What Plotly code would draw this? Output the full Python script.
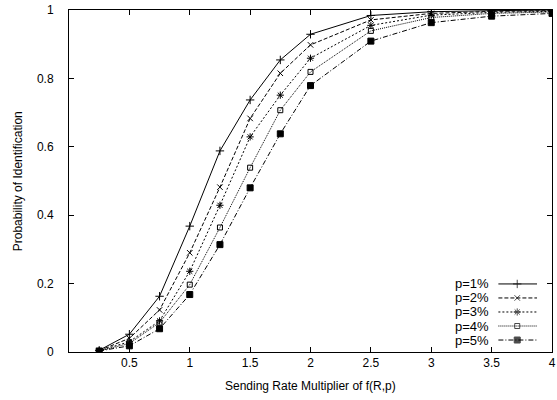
import plotly.graph_objects as go

x_vals = [0.25, 0.5, 0.75, 1.0, 1.25, 1.5, 1.75, 2.0, 2.5, 3.0, 3.5, 4.0]
p1 = [0.005, 0.052, 0.163, 0.368, 0.588, 0.737, 0.854, 0.929, 0.984, 0.995, 0.998, 1.0]
p2 = [0.004, 0.040, 0.123, 0.290, 0.482, 0.683, 0.815, 0.898, 0.971, 0.990, 0.996, 0.998]
p3 = [0.004, 0.030, 0.091, 0.236, 0.429, 0.629, 0.751, 0.859, 0.955, 0.985, 0.993, 0.996]
p4 = [0.003, 0.025, 0.086, 0.197, 0.364, 0.539, 0.707, 0.819, 0.939, 0.978, 0.990, 0.994]
p5 = [0.003, 0.018, 0.068, 0.168, 0.314, 0.480, 0.638, 0.779, 0.909, 0.963, 0.982, 0.990]
series_names = ["p=1%", "p=2%", "p=3%", "p=4%", "p=5%"]
x_ticks = [0.5, 1, 1.5, 2, 2.5, 3, 3.5, 4]
y_ticks = [0, 0.2, 0.4, 0.6, 0.8, 1]
y_tick_text = ["0", "0.2", "0.4", "0.6", "0.8", "1"]
x_title = "Sending Rate Multiplier of f(R,p)"
y_title = "Probability of Identification"

styles = [
    dict(dash="solid", symbol="cross-thin", size=6),
    dict(dash="4px,2px", symbol="x-thin", size=5.5),
    dict(dash="2px,2px", symbol="asterisk", size=6),
    dict(dash="1px,1px", symbol="square-open", size=5),
    dict(dash="5px,2px,1px,2px", symbol="square", size=6),
]

FONT = "Liberation Sans, Arial, Helvetica, sans-serif"
fig = go.Figure()
for name, ys, st in zip(series_names, [p1, p2, p3, p4, p5], styles):
    fig.add_trace(go.Scatter(
        x=x_vals, y=ys, mode="lines+markers", name=name,
        line=dict(color="black", width=1, dash=st["dash"]),
        marker=dict(symbol=st["symbol"], size=st["size"], color="black",
                    line=dict(color="black", width=1)),
        showlegend=False,
    ))

# Manual gnuplot-style legend (text on the left, key sample on the right)
leg_y = [0.199, 0.158, 0.117, 0.076, 0.035]
for name, st, yy in zip(series_names, styles, leg_y):
    fig.add_trace(go.Scatter(
        x=[0.889, 0.928, 0.969], y=[yy, yy, yy], mode="lines+markers",
        xaxis="x2", yaxis="y2", showlegend=False, hoverinfo="skip",
        line=dict(color="black", width=1, dash=st["dash"]),
        marker=dict(symbol=st["symbol"], size=[0, st["size"], 0], color="black",
                    line=dict(color="black", width=1)),
    ))
    fig.add_annotation(x=0.874, y=yy, xref="paper", yref="paper", text=name,
                       showarrow=False, xanchor="right", yanchor="middle",
                       font=dict(family=FONT, size=13, color="black"))

# Axis titles as annotations (precise placement)
fig.add_annotation(x=0.5, y=-0.098, xref="paper", yref="paper", text=x_title,
                   showarrow=False, xanchor="center", yanchor="middle",
                   font=dict(family=FONT, size=12, color="black"))
fig.add_annotation(x=-0.105, y=0.5, xref="paper", yref="paper", text=y_title,
                   showarrow=False, xanchor="center", yanchor="middle", textangle=-90,
                   font=dict(family=FONT, size=12, color="black"))

axis_common = dict(showline=True, linecolor="black", linewidth=1, mirror="ticks",
                   ticks="inside", ticklen=5, tickcolor="black", showgrid=False,
                   zeroline=False, automargin=False,
                   tickfont=dict(family=FONT, size=12, color="black"))
fig.update_layout(
    width=557, height=400,
    margin=dict(l=69, r=5, t=10, b=48),
    paper_bgcolor="white", plot_bgcolor="white",
    xaxis=dict(range=[0, 4], tickvals=x_ticks, ticktext=[str(v) for v in x_ticks],
               **axis_common),
    yaxis=dict(range=[0, 1], tickvals=y_ticks, ticktext=y_tick_text,
               ticklabelstandoff=12, **axis_common),
    xaxis2=dict(range=[0, 1], overlaying="x", visible=False),
    yaxis2=dict(range=[0, 1], overlaying="y", visible=False),
    showlegend=False,
)
fig.write_html("out.html", config={"displayModeBar": False},
               post_script="document.body.style.margin='0px';")
